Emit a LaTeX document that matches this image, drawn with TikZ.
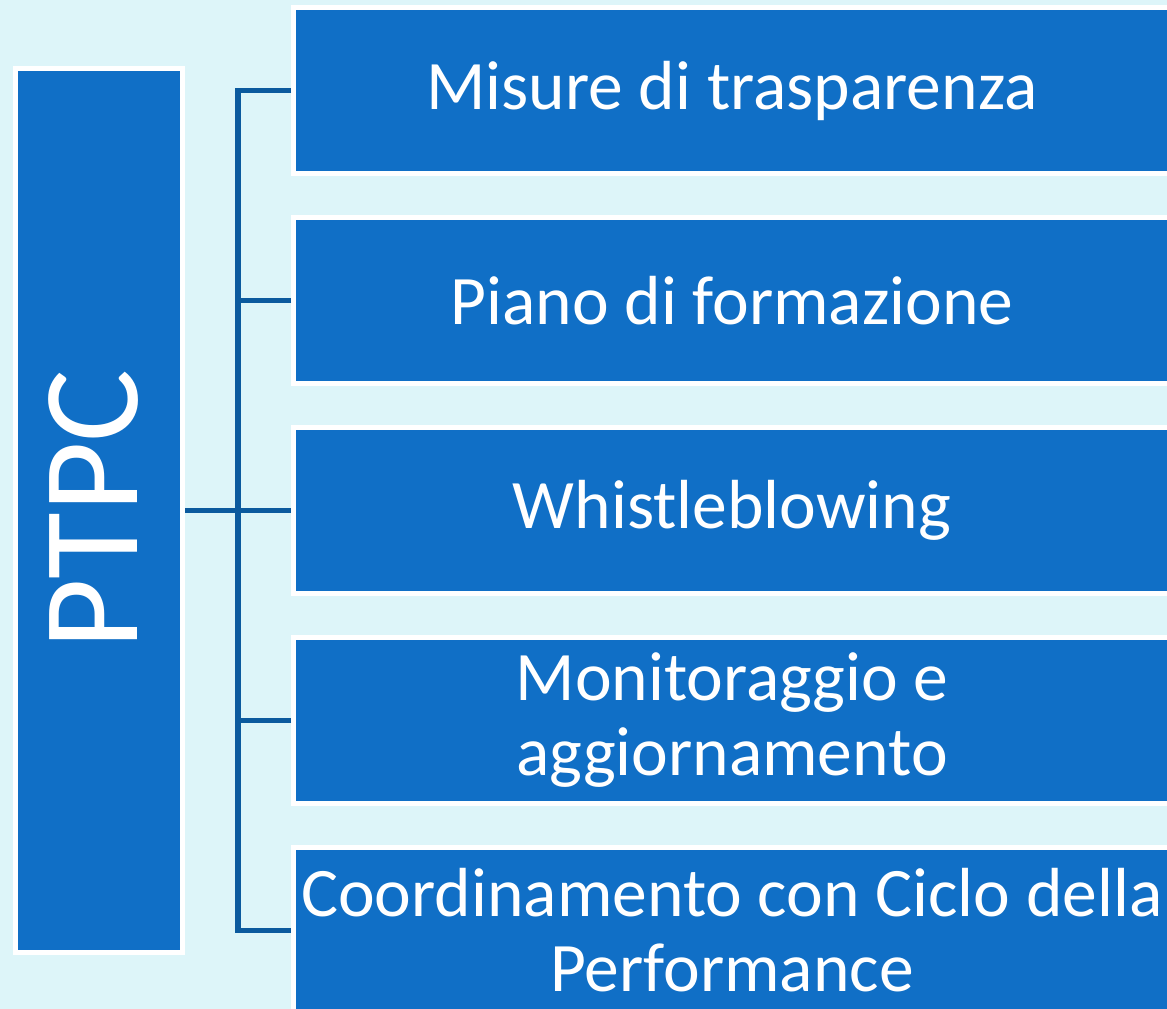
\documentclass[tikz,border=0pt]{standalone}
\usepackage{fontspec}
\setmainfont{Carlito}
\definecolor{bgcol}{HTML}{DDF5F9}
\definecolor{boxcol}{HTML}{106FC6}
\definecolor{linecol}{HTML}{0B5A9E}
\begin{document}
\begin{tikzpicture}[x=1pt,y=-1pt,
  itembox/.style={draw=white, line width=5pt, fill=boxcol, text=white,
    minimum width=877pt, minimum height=166pt, inner sep=0pt, align=center,
    font=\fontsize{69.5}{75}\selectfont},
  mainbox/.style={draw=white, line width=5pt, fill=boxcol,
    minimum width=167pt, minimum height=884pt, inner sep=0pt},
  conn/.style={draw=linecol, line width=5.5pt, line join=miter}]
\fill[bgcol] (0,0) rectangle (1167,1009);
\useasboundingbox (0,0) rectangle (1167,1009);
\clip (0,0) rectangle (1167,1009);
\node[mainbox] (L) at (99,510.5) {};
\node[text=white, rotate=90, inner sep=0pt, font=\fontsize{137}{140}\selectfont] (Lt) at (94,509.5) {PTPC};
\node[itembox] (b1) at (732,90.5) {Misure di trasparenza};
\node[itembox] (b2) at (732,300.5) {Piano di formazione};
\node[itembox] (b3) at (732,510.5) {Whistleblowing};
\node[itembox] (b4) at (732,720.5) {Monitoraggio e\\aggiornamento};
\node[itembox] (b5) at (732,930.5) {Coordinamento con Ciclo della\\Performance};
\coordinate (spine) at (238,0);
\draw[conn] (b1.west) -- (b1.west -| spine) -- (b5.west -| spine) -- (b5.west);
\draw[conn] (L.east) -- (L.east -| b3.west);
\draw[conn] (b2.west) -- (b2.west -| spine);
\draw[conn] (b4.west) -- (b4.west -| spine);
\end{tikzpicture}
\end{document}
